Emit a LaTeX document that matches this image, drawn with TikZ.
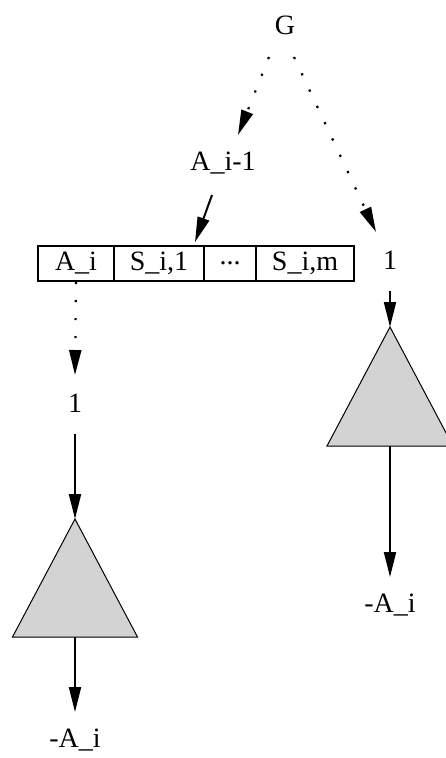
\documentclass[tikz,border=0pt]{standalone}
\usepackage{fontspec}
\setmainfont{Liberation Serif}
\usetikzlibrary{arrows.meta}
\begin{document}
\begin{tikzpicture}[x=1pt,y=-1pt,
  lbl/.style={inner sep=0pt, font=\fontsize{28}{32}\selectfont},
  cell/.style={draw, line width=2pt, minimum height=35pt, inner sep=0pt, anchor=north west, font=\fontsize{28}{32}\selectfont},
  tip/.style={-{Triangle[length=25pt,width=12pt]}},
  solidedge/.style={tip, line width=2pt},
  dotedge/.style={tip, line width=2.2pt, line cap=butt, dash pattern=on 2.2pt off 15.8pt},
  tri/.style={draw=black, line width=1pt, fill={rgb,255:red,211;green,211;blue,211}, line join=miter}
]
\clip (0,0) rectangle (446,758);
\useasboundingbox (0,0) rectangle (446,758);

% labels
\node[lbl] (G)  at (285,25) {G};
\node[lbl] (A1) at (223,163) {A\_i-1};
\node[lbl] (R1) at (390,260) {1};
\node[lbl] (L1) at (75,403) {1};
\node[lbl] (LA) at (75,740) {-A\_i};
\node[lbl] (RA) at (390,605) {-A\_i};

% record
\node[cell, minimum width=76pt] (Ai) at (37,245) {A\_i};
\node[cell, minimum width=90pt] (S1) at (113,245) {S\_i,1};
\node[cell, minimum width=52pt] (Sd) at (203,245) {.{}.{}.};
\node[cell, minimum width=98pt] (Sm) at (255,245) {S\_i,m};

% triangles
\coordinate (LTa) at (75,519);
\coordinate (LTb) at (75,637);
\draw[tri] (LTa) -- (12.5,637) -- (137.5,637) -- cycle;
\coordinate (RTa) at (390,327);
\coordinate (RTb) at (390,446);
\draw[tri] (RTa) -- (327,446) -- (453,446) -- cycle;

% connectors
\draw[dotedge] ([shift={(-16,32)}]G.center) -- ([shift={(15,-28)}]A1.center);
\draw[dotedge] ([shift={(9,32)}]G.center) -- ([shift={(-14,-28)}]R1.center);
\draw[solidedge] ([shift={(-11,32)}]A1.center) -- ([shift={(-10,-3)}]S1.north east);
\draw[dotedge] ([shift={(0,0)}]Ai.south) -- ([shift={(0,-28)}]L1.center);
\draw[solidedge] ([shift={(0,31)}]L1.center) -- (LTa);
\draw[solidedge] (LTb) -- ([shift={(0,-28)}]LA.center);
\draw[solidedge] ([shift={(0,31)}]R1.center) -- (RTa);
\draw[solidedge] (RTb) -- ([shift={(0,-28)}]RA.center);
\end{tikzpicture}
\end{document}
